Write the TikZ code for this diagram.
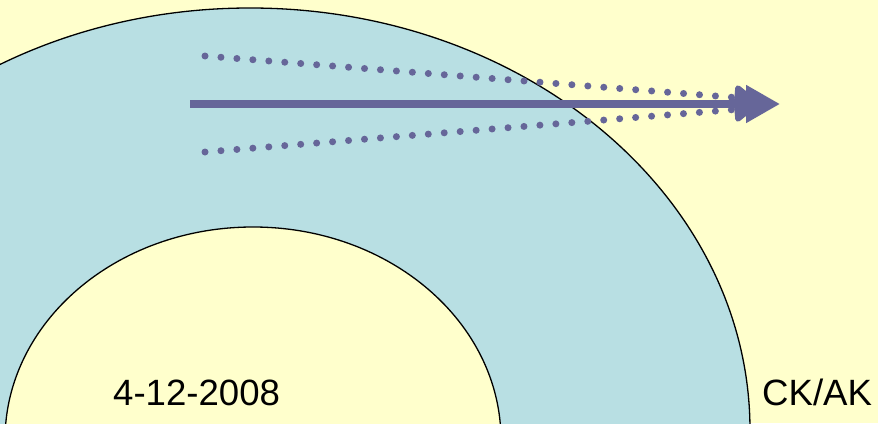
\documentclass[tikz,border=0pt]{standalone}
\usepackage{fontspec}
\setmainfont{Liberation Sans}
\usetikzlibrary{arrows.meta}
\definecolor{paper}{HTML}{FFFFCC}
\definecolor{lagoon}{HTML}{B8DFE3}
\definecolor{slate}{HTML}{666699}

\begin{document}
\begin{tikzpicture}[x=1pt, y=-1pt,
  ring/.style={draw=black, line width=1.3pt},
  ray/.style={slate, line width=8pt, -{Triangle[length=34pt,width=36pt]}},
  dotray/.style={slate, line width=7pt, line cap=round, dash pattern=on 0pt off 16pt,
    -{Triangle[length=22pt,width=28pt,round]}},
  stamp/.style={font=\fontsize{36.6}{40}\selectfont, inner sep=0pt, anchor=base west}
  ]
  \fill[paper] (0,0) rectangle (878,423);
  \clip (0,0) rectangle (878,423);
  % shells
  \filldraw[ring, fill=lagoon] (250,430) ellipse [x radius=500, y radius=422];
  \filldraw[ring, fill=paper] (253,440) ellipse [x radius=248, y radius=213];
  % beam
  \coordinate (upA) at (205,56);
  \coordinate (upB) at (754,99);
  \coordinate (loA) at (205,152);
  \coordinate (loB) at (754,108);
  \coordinate (src) at (190,104);
  \coordinate (tip) at (780,104);
  \draw[dotray] (upA) -- (upB);
  \draw[dotray] (loA) -- (loB);
  \draw[ray] (src) -- (tip);
  % footer
  \node[stamp] (date) at (113,405) {4-12-2008};
  \node[stamp] (who) at (762,405) {CK/AK};
\end{tikzpicture}
\end{document}
